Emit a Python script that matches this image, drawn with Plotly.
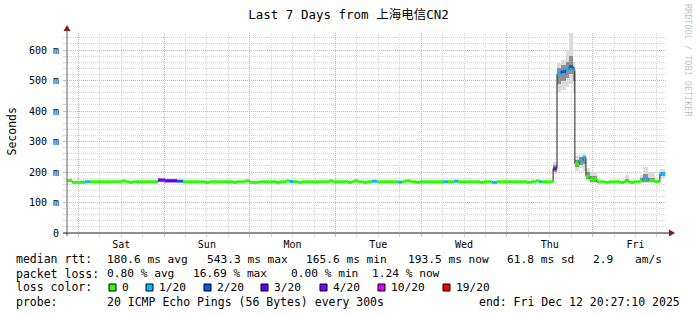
import plotly.graph_objects as go
import pandas as pd

# ---------------- data ----------------
T0 = pd.Timestamp("2025-12-05 20:50:10")      # left edge of the graph
SPAN_H = 168                                   # 7 days

day_labels = ["Sat", "Sun", "Mon", "Tue", "Wed", "Thu", "Fri"]
day_midnights = ["2025-12-06", "2025-12-07", "2025-12-08", "2025-12-09",
                 "2025-12-10", "2025-12-11", "2025-12-12"]

y_tickvals = [0, 100, 200, 300, 400, 500, 600]
y_ticktext = ["0", "100 m", "200 m", "300 m", "400 m", "500 m", "600 m"]

# median rtt (ms) per step, start hour (from left edge) and lost pings (of 20)
seg_start_h = [0.0, 1.4, 5.0, 6.4, 15.4, 16.5, 17.4, 18.5, 25.5, 27.4, 30.8, 32.5,
               38.6, 40.0, 46.5, 47.6, 49.8, 51.2, 53.8, 58.5, 59.6, 61.3, 62.4, 63.3,
               64.7, 65.8, 73.4, 74.5, 78.7, 79.8, 80.4, 81.5, 82.9, 84.0, 85.4, 86.8,
               92.7, 93.8, 94.6, 96.3, 97.7, 98.8, 105.3, 106.7, 108.4, 109.5, 115.6, 116.8,
               119.0, 120.4, 128.8, 129.9, 131.3, 132.2, 133.0, 136.1, 137.2, 138.3, 139.7,
               140.6, 141.7, 142.2, 143.4, 144.5, 145.3, 146.4, 148.4, 150.6, 151.8, 154.8,
               156.0, 156.2, 157.1, 157.6, 158.8, 160.4, 161.2, 162.8, 164.6, 166.0]
seg_median = [172, 166, 168, 168, 171, 168, 166, 168, 174, 171, 170, 168,
              166, 168, 166, 168, 171, 166, 168, 166, 168, 171, 169, 168,
              166, 168, 171, 168, 166, 168, 171, 168, 166, 168, 170, 168,
              167, 168, 171, 168, 166, 168, 168, 168, 170, 168, 166, 168,
              166, 168, 166, 168, 171, 168, 168, 211, 522, 529, 536,
              546, 535, 227, 238, 248, 186, 177, 168, 166, 168, 166,
              168, 171, 168, 166, 168, 171, 178, 172, 169, 194]
seg_loss = [0, 0, 1, 0, 0, 0, 0, 0, 4, 3, 2, 0,
            0, 0, 0, 0, 0, 0, 0, 0, 0, 0, 1, 0,
            0, 0, 0, 0, 0, 0, 0, 0, 0, 0, 1, 0,
            1, 0, 0, 0, 0, 0, 1, 0, 1, 0, 0, 0,
            1, 0, 0, 0, 0, 1, 0, 4, 1, 2, 1,
            2, 1, 0, 1, 1, 0, 0, 0, 0, 0, 0,
            0, 0, 0, 0, 0, 0, 1, 0, 0, 1]
data_end_h = 167.4

# smoke (ping spread, ms): outer and inner bands
smoke_start_h = [25.5, 136.1, 137.2, 138.3, 139.7, 140.6, 141.7, 142.2, 143.4, 144.5,
                 145.3, 146.4, 156.2, 160.4, 161.2, 162.8, 166.0]
smoke_end_h = [30.8, 137.2, 138.3, 139.7, 140.6, 141.7, 142.2, 143.4, 144.5, 145.3,
               146.4, 148.4, 157.4, 161.2, 162.8, 164.6, 167.4]
smoke_lo = [164, 192, 462, 468, 478, 490, 460, 205, 212, 205, 170, 164, 164, 164, 164, 164, 182]
smoke_hi = [180, 232, 558, 566, 600, 655, 560, 252, 256, 262, 212, 200, 190, 191, 218, 200, 210]
smoke_in_lo = [167, 200, 490, 500, 510, 520, 500, 215, 222, 225, 176, 168, 168, 168, 168, 167, 188]
smoke_in_hi = [176, 222, 540, 550, 560, 580, 545, 240, 248, 250, 200, 188, 178, 180, 192, 182, 200]

loss_levels = [0, 1, 2, 3, 4, 10, 19]
loss_labels = ["0", "1/20", "2/20", "3/20", "4/20", "10/20", "19/20"]
loss_colors = ["#26ff00", "#00b8ff", "#0059ff", "#5e00ff", "#7e00ff", "#dd00ff", "#ff0000"]

title_text = "Last 7 Days from 上海电信CN2"
rtt_row = ["median rtt:", "180.6 ms avg", "543.3 ms max", "165.6 ms min",
           "193.5 ms now", "61.8 ms sd", "2.9", "am/s"]
loss_row = ["packet loss:", "0.80 % avg", "16.69 % max", "0.00 % min", "1.24 % now"]
probe_row = ["probe:", "20 ICMP Echo Pings (56 Bytes) every 300s"]
end_text = "end: Fri Dec 12 20:27:10 2025"

# ---------------- helpers ----------------
MONO = "DejaVu Sans Mono"
L, R, T, B = 67, 30, 33, 82
W, H = 697, 315
PW, PH = W - L - R, H - T - B
LEG_SIZE = 11.2
LABEL_SIZE = 11.5


def ts(h):
    return (T0 + pd.Timedelta(hours=h)).strftime("%Y-%m-%d %H:%M:%S")


def px(xp):
    return (xp - L) / PW


def py(yp):
    return (H - B - yp) / PH


def level_index(loss):
    idx = 0
    for i, lv in enumerate(loss_levels):
        if loss >= lv:
            idx = i
    return idx


seg_end_h = seg_start_h[1:] + [data_end_h]

fig = go.Figure()

# smoke bands
for lo, hi, col in [(smoke_lo, smoke_hi, "#dcdcdc"), (smoke_in_lo, smoke_in_hi, "#909090")]:
    fig.add_trace(go.Bar(
        x=[ts((a + b) / 2) for a, b in zip(smoke_start_h, smoke_end_h)],
        y=[h - l for l, h in zip(lo, hi)],
        base=lo,
        width=[(b - a) * 3600000 for a, b in zip(smoke_start_h, smoke_end_h)],
        marker=dict(color=col, line=dict(width=0)),
        hoverinfo="skip", showlegend=False))

# black median step line
fig.add_trace(go.Scatter(
    x=[ts(h) for h in seg_start_h] + [ts(data_end_h)],
    y=seg_median + [seg_median[-1]],
    mode="lines", line=dict(color="#202020", width=1, shape="hv"),
    hoverinfo="skip", showlegend=False))

# colored median segments by loss
for i, col in enumerate(loss_colors):
    xs, ys = [], []
    for s, e, m, lo in zip(seg_start_h, seg_end_h, seg_median, seg_loss):
        if level_index(lo) == i:
            xs += [ts(s), ts(e), None]
            ys += [m, m, None]
    if xs:
        fig.add_trace(go.Scatter(x=xs, y=ys, mode="lines",
                                 line=dict(color=col, width=3),
                                 hoverinfo="skip", showlegend=False))

# dummy trace for the day-label axis
noons = [d + " 12:00:00" for d in day_midnights]
fig.add_trace(go.Scatter(x=noons, y=[0] * len(noons), xaxis="x2", mode="markers",
                         marker=dict(opacity=0), hoverinfo="skip", showlegend=False))

GRID_MINOR = "#d6d6d6"
GRID_MAJOR = "#eaa9a9"
DOT = "1px,1px"
xr = [ts(0), ts(SPAN_H)]

fig.update_layout(
    width=W, height=H,
    margin=dict(l=L, r=R, t=T, b=B),
    paper_bgcolor="white", plot_bgcolor="white",
    barmode="overlay", bargap=0,
    font=dict(family=MONO, size=10, color="black"),
    title=dict(text=title_text, x=0.5, xref="container", xanchor="center",
               y=1 - 14.5 / H, yref="container", yanchor="middle",
               font=dict(family=MONO + ", Noto Sans CJK SC", size=12.5, color="black")),
    xaxis=dict(type="date", range=xr, tickvals=day_midnights, showticklabels=False,
               showgrid=True, gridcolor=GRID_MAJOR, griddash=DOT, gridwidth=1,
               ticks="outside", ticklen=3, tickcolor=GRID_MAJOR,
               minor=dict(dtick=6 * 3600000, tick0="2025-12-06", showgrid=True,
                          gridcolor=GRID_MINOR, griddash=DOT, ticks="outside",
                          ticklen=3, tickcolor=GRID_MINOR),
               showline=False, zeroline=False, fixedrange=True),
    xaxis2=dict(type="date", range=xr, overlaying="x", anchor="y", side="bottom",
                tickvals=noons, ticktext=day_labels, showgrid=False, ticks="",
                tickfont=dict(family=MONO, size=10), showline=False, zeroline=False,
                ticklabelstandoff=4),
    yaxis=dict(range=[0, 656], tickvals=y_tickvals, ticktext=y_ticktext,
               showgrid=True, gridcolor=GRID_MAJOR, griddash=DOT, gridwidth=1,
               ticks="outside", ticklen=3, tickcolor=GRID_MAJOR,
               tickfont=dict(family=MONO, size=10), ticklabelstandoff=2,
               minor=dict(dtick=20, showgrid=True, gridcolor=GRID_MINOR, griddash=DOT,
                          ticks="outside", ticklen=3, tickcolor=GRID_MINOR),
               showline=False, zeroline=False, fixedrange=True),
)

# axis lines and arrows
shapes = [
    dict(type="line", xref="paper", yref="paper", x0=px(67), x1=px(67), y0=py(236), y1=py(30),
         line=dict(color="#606060", width=1)),
    dict(type="line", xref="paper", yref="paper", x0=px(63), x1=px(670), y0=py(233), y1=py(233),
         line=dict(color="#202020", width=1)),
    dict(type="path", xref="paper", yref="paper",
         path=f"M {px(63.5)},{py(31)} L {px(70.5)},{py(31)} L {px(67)},{py(25)} Z",
         fillcolor="#8b1a1a", line=dict(color="#8b1a1a", width=0)),
    dict(type="path", xref="paper", yref="paper",
         path=f"M {px(669)},{py(229.5)} L {px(669)},{py(236.5)} L {px(675)},{py(233)} Z",
         fillcolor="#8b1a1a", line=dict(color="#8b1a1a", width=0)),
]

annotations = []


def text_at(xp, yp, s, size=LEG_SIZE, anchor="left", color="black", angle=0, family=MONO):
    annotations.append(dict(xref="paper", yref="paper", x=px(xp), y=py(yp), text=s,
                            showarrow=False, xanchor=anchor, yanchor="middle",
                            textangle=angle, borderpad=0,
                            font=dict(family=family, size=size, color=color)))


# y-axis title and watermark
text_at(11.5, 132, "Seconds", size=11.5, anchor="center", angle=-90)
text_at(688, 60, "RRDTOOL / TOBI OETIKER", size=8.5, anchor="center", angle=90, color="#c4c4c4")

# legend rows
rtt_x = [16, 107.3, 207.3, 306, 408.3, 506.7, 593.3, 635]
for k, (xv, s) in enumerate(zip(rtt_x, rtt_row)):
    text_at(xv - 1, 259.3, s, size=LABEL_SIZE if k == 0 else LEG_SIZE)
loss_x = [16, 107.3, 192.7, 290.5, 372.3]
for k, (xv, s) in enumerate(zip(loss_x, loss_row)):
    text_at(xv - 1, 273.5, s, size=LABEL_SIZE if k == 0 else LEG_SIZE)
text_at(15, 287.3, "loss color:", size=LABEL_SIZE)
box_x = [109, 146, 204, 261, 320, 378, 443]
for bx, col, lab in zip(box_x, loss_colors, loss_labels):
    shapes.append(dict(type="rect", xref="paper", yref="paper",
                       x0=px(bx), x1=px(bx + 7), y0=py(291), y1=py(284),
                       fillcolor=col, line=dict(color="black", width=1)))
    text_at(bx + 12, 287.3, lab)
probe_x = [16, 107.3]
for xv, s in zip(probe_x, probe_row):
    text_at(xv - 1, 301.7, s, size=LABEL_SIZE)
text_at(681, 301.7, end_text, size=LABEL_SIZE, anchor="right")

fig.update_layout(shapes=shapes, annotations=annotations)
fig.write_html("out.html")
